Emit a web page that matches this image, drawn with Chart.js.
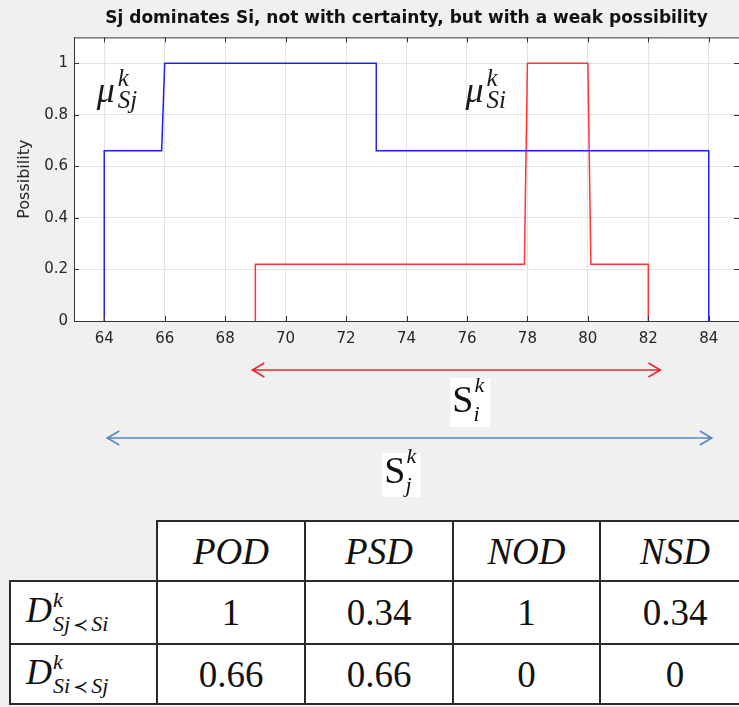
<!DOCTYPE html>
<html>
<head>
<meta charset="utf-8">
<script src="https://cdn.jsdelivr.net/npm/chart.js@4.4.1/dist/chart.umd.min.js"></script>
<style>
html, body { margin: 0; padding: 0; background: #f0f0f0; }
#page { position: relative; width: 739px; height: 707px; overflow: hidden; background: #f0f0f0; }
#chart { position: absolute; left: 0; top: 0; }
#dom { position: absolute; left: 9px; top: 520px; width: 740px; border-collapse: collapse; table-layout: fixed;
       font-family: "Liberation Serif", "Times New Roman", serif; color: #111; }
#dom td, #dom th { border: 2px solid #2b2b2b; background: #fff; text-align: center; padding: 0;
       font-weight: normal; font-size: 37px; }
#dom th { font-style: italic; }
#dom th.blank { border-top: none; border-left: none; background: transparent; }
#dom td.lbl { text-align: left; padding-left: 15px; font-size: 36px; white-space: nowrap; }
#dom .ss { display: inline-block; vertical-align: -9px; line-height: 24px; font-size: 22px; margin-left: 1px; }
#dom .ss > span { display: block; font-style: italic; }
#dom .rel { display: inline; font-style: normal; margin: 0 3px; font-size: 18px; }
</style>
</head>
<body>
<div id="page">
  <canvas id="chart" width="739" height="520"></canvas>
  <table id="dom"></table>
</div>
<script>
// possibility distributions (step outlines)
var sjX = [64, 64, 65.9, 66, 73, 73, 84, 84];
var sjY = [0, 0.66, 0.66, 1, 1, 0.66, 0.66, 0];
var siX = [69, 69, 77.9, 78, 80, 80.1, 82, 82];
var siY = [0, 0.22, 0.22, 1, 1, 0.22, 0.22, 0];

// support ranges drawn as arrows under the axis
var siRange = [68.9, 82.4];
var sjRange = [64.1, 84.1];

var xTicks = [64, 66, 68, 70, 72, 74, 76, 78, 80, 82, 84];
var yTicks = [0, 0.2, 0.4, 0.6, 0.8, 1];

// dominance indices table
var indexNames = ['POD', 'PSD', 'NOD', 'NSD'];
var rowSubs = [['Sj', 'Si'], ['Si', 'Sj']];
var djOverI = [1, 0.34, 1, 0.34];
var diOverJ = [0.66, 0.66, 0, 0];

function toPoints(xs, ys) {
	return xs.map(function (x, i) { return { x: x, y: ys[i] }; });
}

function drawScript(ctx, x, y, base, sup, sub, o) {
	ctx.font = o.baseFont;
	ctx.fillText(base, x, y);
	var w = ctx.measureText(base).width + o.gap;
	ctx.font = o.scriptFont;
	ctx.fillText(sup, x + w + o.supDx, y - o.rise);
	ctx.fillText(sub, x + w, y + o.drop);
}

function drawArrow(ctx, x1, x2, y, color) {
	ctx.save();
	ctx.strokeStyle = color;
	ctx.lineWidth = 1.6;
	ctx.beginPath();
	ctx.moveTo(x1, y); ctx.lineTo(x2, y);
	ctx.moveTo(x1 + 12, y - 7); ctx.lineTo(x1, y); ctx.lineTo(x1 + 12, y + 7);
	ctx.moveTo(x2 - 12, y - 7); ctx.lineTo(x2, y); ctx.lineTo(x2 - 12, y + 7);
	ctx.stroke();
	ctx.restore();
}

var matlabFrame = {
	id: 'matlabFrame',
	beforeDraw: function (chart) {
		var a = chart.chartArea, ctx = chart.ctx;
		ctx.save();
		ctx.fillStyle = '#ffffff';
		ctx.fillRect(a.left, a.top, a.right - a.left, a.bottom - a.top);
		ctx.restore();
	},
	afterDraw: function (chart) {
		var a = chart.chartArea, ctx = chart.ctx;
		var xs = chart.scales.x, ys = chart.scales.y;
		ctx.save();
		ctx.strokeStyle = '#333333';
		ctx.lineWidth = 1;
		ctx.beginPath();
		ctx.moveTo(a.left, a.top + 0.5); ctx.lineTo(a.right, a.top + 0.5);
		xTicks.forEach(function (v) {
			var px = Math.round(xs.getPixelForValue(v)) + 0.5;
			ctx.moveTo(px, a.bottom); ctx.lineTo(px, a.bottom - 5);
			ctx.moveTo(px, a.top); ctx.lineTo(px, a.top + 5);
		});
		yTicks.forEach(function (v) {
			var py = Math.round(ys.getPixelForValue(v)) + 0.5;
			ctx.moveTo(a.left, py); ctx.lineTo(a.left + 5, py);
			ctx.moveTo(a.right, py); ctx.lineTo(a.right - 5, py);
		});
		ctx.stroke();

		// membership labels
		ctx.fillStyle = '#1a1a1a';
		ctx.textBaseline = 'alphabetic';
		ctx.textAlign = 'left';
		var mu = { baseFont: 'italic 36px "Liberation Serif"', scriptFont: 'italic 25px "Liberation Serif"', gap: 3, supDx: 0, rise: 16, drop: 6 };
		drawScript(ctx, xs.getPixelForValue(63.75), ys.getPixelForValue(0.85), '\u03BC', 'k', 'Sj', mu);
		drawScript(ctx, xs.getPixelForValue(75.95), ys.getPixelForValue(0.85), '\u03BC', 'k', 'Si', mu);

		// support arrows
		var yRed = a.bottom + 49, yBlue = a.bottom + 117;
		drawArrow(ctx, xs.getPixelForValue(siRange[0]), xs.getPixelForValue(siRange[1]), yRed, '#e8262e');
		drawArrow(ctx, xs.getPixelForValue(sjRange[0]), xs.getPixelForValue(sjRange[1]), yBlue, '#5a86c2');

		var sFont = { baseFont: '38px "Liberation Serif"', scriptFont: 'italic 22px "Liberation Serif"', gap: 0, supDx: 1, rise: 20, drop: 9 };
		var xi = xs.getPixelForValue(75.45);
		ctx.fillStyle = '#ffffff';
		ctx.fillRect(xi, yRed + 8, 40, 49);
		ctx.fillStyle = '#111';
		drawScript(ctx, xi + 2, yRed + 42, 'S', 'k', 'i', sFont);
		var xj = xs.getPixelForValue(73.2);
		ctx.fillStyle = '#ffffff';
		ctx.fillRect(xj, yBlue + 15, 38, 44);
		ctx.fillStyle = '#111';
		drawScript(ctx, xj + 2, yBlue + 45, 'S', 'k', 'j', sFont);
		ctx.restore();
	}
};

var tickFont = { family: 'DejaVu Sans', size: 15 };

new Chart(document.getElementById('chart').getContext('2d'), {
	type: 'line',
	data: {
		datasets: [{
			label: 'Sj',
			data: toPoints(sjX, sjY),
			borderColor: '#1f1fff',
			borderWidth: 1.5,
			pointRadius: 0,
			tension: 0,
			fill: false
		}, {
			label: 'Si',
			data: toPoints(siX, siY),
			borderColor: '#ff3434',
			borderWidth: 1.5,
			pointRadius: 0,
			tension: 0,
			fill: false
		}]
	},
	options: {
		responsive: false,
		animation: false,
		layout: { padding: { left: 0, right: 0, top: 0, bottom: 0 } },
		plugins: {
			legend: { display: false },
			tooltip: { enabled: false },
			title: {
				display: true,
				fullSize: false,
				text: 'Sj dominates Si, not with certainty, but with a weak possibility',
				color: '#111',
				font: { family: 'DejaVu Sans', size: 17, weight: 'bold' },
				padding: { top: 8, bottom: 9 }
			}
		},
		scales: {
			x: {
				type: 'linear',
				min: 63,
				max: 85,
				afterBuildTicks: function (s) { s.ticks = xTicks.map(function (v) { return { value: v }; }); },
				afterFit: function (s) { s.height = 199; },
				grid: { color: '#e4e4e4', drawTicks: false },
				border: { color: '#333333' },
				ticks: { font: tickFont, color: '#262626', padding: 9, maxRotation: 0, autoSkip: false,
					callback: function (v) { return String(v); } }
			},
			y: {
				min: 0,
				max: 1.1,
				afterBuildTicks: function (s) { s.ticks = yTicks.map(function (v) { return { value: v }; }); },
				afterFit: function (s) { s.width = 74; },
				grid: { color: '#e4e4e4', drawTicks: false },
				border: { color: '#333333' },
				ticks: { font: tickFont, color: '#262626', padding: 6,
					callback: function (v) { return String(v); } },
				title: {
					display: true,
					text: 'Possibility',
					color: '#262626',
					font: { family: 'DejaVu Sans', size: 16 },
					padding: { top: 15, bottom: 0 }
				}
			}
		}
	},
	plugins: [matlabFrame]
});

// dominance table
function buildTable() {
	var t = document.getElementById('dom');
	var widths = [147, 148, 148, 147, 150];
	var html = '<colgroup>';
	widths.forEach(function (w) { html += '<col style="width:' + w + 'px">'; });
	html += '</colgroup>';
	html += '<tr style="height:60px"><th class="blank"></th>';
	indexNames.forEach(function (n) { html += '<th>' + n + '</th>'; });
	html += '</tr>';
	[djOverI, diOverJ].forEach(function (row, r) {
		var sub = rowSubs[r];
		html += '<tr style="height:' + (r === 0 ? 63 : 60) + 'px"><td class="lbl"><i>D</i><span class="ss"><span>k</span>' +
			'<span>' + sub[0] + '<span class="rel">\u227A</span>' + sub[1] + '</span></span></td>';
		row.forEach(function (v) { html += '<td>' + v + '</td>'; });
		html += '</tr>';
	});
	t.innerHTML = html;
}
buildTable();
</script>
</body>
</html>
